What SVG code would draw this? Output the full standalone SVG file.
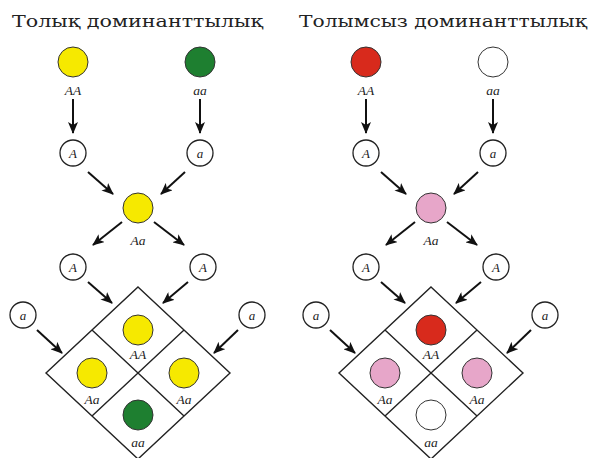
<svg xmlns="http://www.w3.org/2000/svg" width="590" height="458" viewBox="0 0 590 458">
<defs>
<style>
.title{font-family:"DejaVu Serif","Liberation Serif",serif;font-size:16.5px;fill:#222}
.lab{font-family:"Liberation Serif","Times New Roman",serif;font-style:italic;font-size:13.5px;fill:#222;text-anchor:middle}
.gl{font-family:"Liberation Serif","Times New Roman",serif;font-style:italic;font-size:13px;fill:#222;text-anchor:middle;dominant-baseline:central}
.ph{stroke:#333;stroke-width:1}
.gam{fill:#fff;stroke:#222;stroke-width:1.3}
.y{fill:#f6e900}.g{fill:#1e7f30}.r{fill:#d82a1c}.p{fill:#e7a6c9}.w{fill:#fff}
.arr{stroke:#111;stroke-width:2;fill:none;marker-end:url(#ah)}
.grid{fill:none;stroke:#222;stroke-width:1.4}
</style>
<marker id="ah" viewBox="0 0 12 10" refX="11" refY="5" markerWidth="12" markerHeight="10" orient="auto" markerUnits="userSpaceOnUse">
<path d="M0,0 L12,5 L0,10 L3,5 z" fill="#111"/>
</marker>
</defs>
<rect width="590" height="458" fill="#fff"/>

<text class="title" x="12" y="27" textLength="251" lengthAdjust="spacingAndGlyphs">Толық доминанттылық</text>
<text class="title" x="299" y="27" textLength="288" lengthAdjust="spacingAndGlyphs">Толымсыз доминанттылық</text>

<g id="connectors">
<g id="conn-left">
<line class="arr" x1="73" y1="99" x2="73" y2="133"/>
<line class="arr" x1="200" y1="99" x2="200" y2="133"/>
<line class="arr" x1="88" y1="172" x2="113" y2="194"/>
<line class="arr" x1="185" y1="172" x2="161" y2="194"/>
<line class="arr" x1="122" y1="222" x2="93" y2="245"/>
<line class="arr" x1="154" y1="222" x2="184" y2="245"/>
<line class="arr" x1="88" y1="282" x2="112" y2="303"/>
<line class="arr" x1="188" y1="282" x2="163" y2="303"/>
<line class="arr" x1="37" y1="330" x2="62" y2="353"/>
<line class="arr" x1="238" y1="330" x2="214" y2="353"/>
</g>
<g id="conn-right" transform="translate(293,0)">
<line class="arr" x1="73" y1="99" x2="73" y2="133"/>
<line class="arr" x1="200" y1="99" x2="200" y2="133"/>
<line class="arr" x1="88" y1="172" x2="113" y2="194"/>
<line class="arr" x1="185" y1="172" x2="161" y2="194"/>
<line class="arr" x1="122" y1="222" x2="93" y2="245"/>
<line class="arr" x1="154" y1="222" x2="184" y2="245"/>
<line class="arr" x1="88" y1="282" x2="112" y2="303"/>
<line class="arr" x1="188" y1="282" x2="163" y2="303"/>
<line class="arr" x1="37" y1="330" x2="62" y2="353"/>
<line class="arr" x1="238" y1="330" x2="214" y2="353"/>
</g>
</g>

<!-- Left panel: complete dominance -->
<g id="L-p1"><circle class="ph y" cx="73" cy="62" r="15"/><text class="lab" x="73" y="95">AA</text></g>
<g id="L-p2"><circle class="ph g" cx="200" cy="62" r="15"/><text class="lab" x="200" y="95">aa</text></g>
<g id="L-g1"><circle class="gam" cx="73" cy="153" r="13"/><text class="gl" x="73" y="153">A</text></g>
<g id="L-g2"><circle class="gam" cx="200" cy="153" r="13"/><text class="gl" x="200" y="153">a</text></g>
<g id="L-f1"><circle class="ph y" cx="138" cy="208" r="15"/><text class="lab" x="138" y="245">Aa</text></g>
<g id="L-g3"><circle class="gam" cx="73" cy="267" r="13"/><text class="gl" x="73" y="267">A</text></g>
<g id="L-g4"><circle class="gam" cx="203" cy="267" r="13"/><text class="gl" x="203" y="267">A</text></g>
<g id="L-g5"><circle class="gam" cx="23" cy="315" r="13"/><text class="gl" x="23" y="315">a</text></g>
<g id="L-g6"><circle class="gam" cx="252" cy="315" r="13"/><text class="gl" x="252" y="315">a</text></g>
<g id="L-grid">
<path class="grid" d="M138,287 L230,373 L138,459 L46,373 Z M92,330 L184,416 M184,330 L92,416"/>
<circle class="ph y" cx="138" cy="330" r="15"/><text class="lab" x="138" y="359">AA</text>
<circle class="ph y" cx="92" cy="373" r="15"/><text class="lab" x="92" y="404">Aa</text>
<circle class="ph y" cx="184" cy="373" r="15"/><text class="lab" x="184" y="404">Aa</text>
<circle class="ph g" cx="138" cy="415" r="15"/><text class="lab" x="138" y="447">aa</text>
</g>

<!-- Right panel: incomplete dominance -->
<g transform="translate(293,0)">
<g id="R-p1"><circle class="ph r" cx="73" cy="62" r="15"/><text class="lab" x="73" y="95">AA</text></g>
<g id="R-p2"><circle class="ph w" cx="200" cy="62" r="15"/><text class="lab" x="200" y="95">aa</text></g>
<g id="R-g1"><circle class="gam" cx="73" cy="153" r="13"/><text class="gl" x="73" y="153">A</text></g>
<g id="R-g2"><circle class="gam" cx="200" cy="153" r="13"/><text class="gl" x="200" y="153">a</text></g>
<g id="R-f1"><circle class="ph p" cx="138" cy="208" r="15"/><text class="lab" x="138" y="245">Aa</text></g>
<g id="R-g3"><circle class="gam" cx="73" cy="267" r="13"/><text class="gl" x="73" y="267">A</text></g>
<g id="R-g4"><circle class="gam" cx="203" cy="267" r="13"/><text class="gl" x="203" y="267">A</text></g>
<g id="R-g5"><circle class="gam" cx="23" cy="315" r="13"/><text class="gl" x="23" y="315">a</text></g>
<g id="R-g6"><circle class="gam" cx="252" cy="315" r="13"/><text class="gl" x="252" y="315">a</text></g>
<g id="R-grid">
<path class="grid" d="M138,287 L230,373 L138,459 L46,373 Z M92,330 L184,416 M184,330 L92,416"/>
<circle class="ph r" cx="138" cy="330" r="15"/><text class="lab" x="138" y="359">AA</text>
<circle class="ph p" cx="92" cy="373" r="15"/><text class="lab" x="92" y="404">Aa</text>
<circle class="ph p" cx="184" cy="373" r="15"/><text class="lab" x="184" y="404">Aa</text>
<circle class="ph w" cx="138" cy="415" r="15"/><text class="lab" x="138" y="447">aa</text>
</g>
</g>
</svg>
